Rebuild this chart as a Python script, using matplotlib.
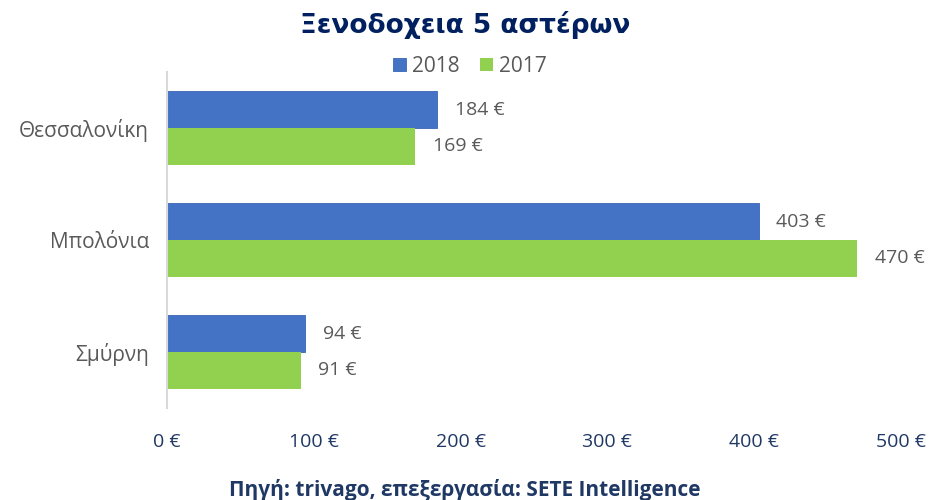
import numpy as np
import matplotlib.pyplot as plt

cities = ["Θεσσαλονίκη", "Μπολόνια", "Σμύρνη"]
v2018 = [184, 403, 94]
v2017 = [169, 470, 91]
xticks = [0, 100, 200, 300, 400, 500]

navy = "#1F3864"
grey = "#595959"
blue = "#4472C4"
green = "#92D050"
lab_font = ["Open Sans", "DejaVu Sans"]

fig = plt.figure(figsize=(9.3, 5), dpi=100)
ax = fig.add_axes([167 / 930, 1 - 408 / 500, 734 / 930, 336 / 500])

y = np.arange(len(cities))
h = 0.33
b1 = ax.barh(y - h / 2, v2018, height=h, color=blue, edgecolor="#3A66B8", linewidth=0.6, label="2018")
b2 = ax.barh(y + h / 2, v2017, height=h, color=green, label="2017")

for bars, vals in ((b1, v2018), (b2, v2017)):
    for bar, v in zip(bars, vals):
        ax.text(v + 12, bar.get_y() + bar.get_height() / 2, f"{v} €", va="center", ha="left",
                fontsize=14, color=grey, family=lab_font)

ax.set_xlim(0, 500)
ax.set_ylim(2.5, -0.5)
ax.set_yticks(y)
ax.set_yticklabels(cities, fontsize=15, color=grey, family=lab_font)
ax.set_xticks(xticks)
ax.set_xticklabels([f"{t} €" for t in xticks], fontsize=14, color=navy, family=lab_font)
ax.tick_params(axis="both", length=0)
ax.tick_params(axis="x", pad=18)
ax.tick_params(axis="y", pad=13)
for s in ("top", "right", "bottom"):
    ax.spines[s].set_visible(False)
ax.spines["left"].set_color("#D9D9D9")
ax.spines["left"].set_linewidth(1.5)

fig.text(0.5, 1 - 25 / 500, "Ξενοδοχεια 5 αστέρων", ha="center", va="center",
         fontsize=19, fontweight="bold", color="#002060", family="DejaVu Sans")
leg = fig.legend(loc="center", bbox_to_anchor=(470 / 930, 1 - 66 / 500), ncol=2, frameon=False,
                 prop={"family": lab_font, "size": 15}, handlelength=0.6, handleheight=0.6,
                 handletextpad=0.3, columnspacing=1.0)
for t in leg.get_texts():
    t.set_color(grey)
fig.text(0.5, 1 - 490 / 500, "Πηγή: trivago, επεξεργασία: SETE Intelligence", ha="center", va="center",
         fontsize=15, fontweight="bold", color=navy, family=lab_font)

fig.savefig("out.png", dpi=100)
